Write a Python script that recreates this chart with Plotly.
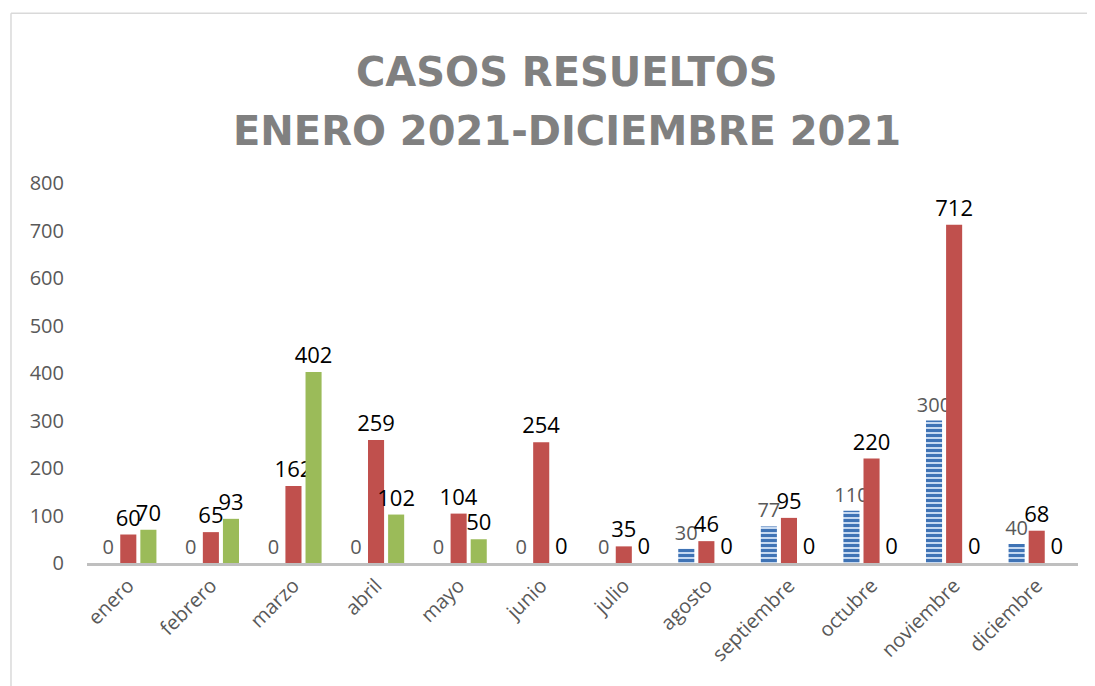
import plotly.graph_objects as go

months = ["enero", "febrero", "marzo", "abril", "mayo", "junio", "julio",
          "agosto", "septiembre", "octubre", "noviembre", "diciembre"]
serie_azul = [0, 0, 0, 0, 0, 0, 0, 30, 77, 110, 300, 40]
serie_roja = [60, 65, 162, 259, 104, 254, 35, 46, 95, 220, 712, 68]
serie_verde = [70, 93, 402, 102, 50, 0, 0, 0, 0, 0, 0, 0]
y_ticks = [0, 100, 200, 300, 400, 500, 600, 700, 800]

FONT = "Open Sans"

fig = go.Figure()
fig.add_trace(go.Bar(
    x=months, y=serie_azul, name="Serie 1",
    marker=dict(color="#c6d9f1", line=dict(width=0),
                pattern=dict(shape="-", fgcolor="#3f73b5", bgcolor="#c6d9f1",
                             size=5, solidity=0.6, fillmode="replace")),
    texttemplate="%{y}", textposition="outside", constraintext="none",
    cliponaxis=False, textfont=dict(family=FONT, size=20, color="#595959"),
))
fig.add_trace(go.Bar(
    x=months, y=serie_roja, name="Serie 2",
    marker=dict(color="#c0504d", line=dict(width=0)),
    texttemplate="%{y}", textposition="outside", constraintext="none",
    cliponaxis=False, textfont=dict(family=FONT, size=22, color="#000000"),
))
fig.add_trace(go.Bar(
    x=months, y=serie_verde, name="Serie 3",
    marker=dict(color="#9bbb59", line=dict(width=0)),
    texttemplate="%{y}", textposition="outside", constraintext="none",
    cliponaxis=False, textfont=dict(family=FONT, size=22, color="#000000"),
))

frame_line = dict(color="#d9d9d9", width=1.5)

fig.update_layout(
    width=1087, height=678,
    margin=dict(l=79, r=17, t=175, b=123),
    paper_bgcolor="white", plot_bgcolor="white",
    barmode="group", bargap=0.27, bargroupgap=0.2,
    showlegend=False,
    font=dict(family=FONT, color="#595959"),
    xaxis=dict(showline=True, linecolor="#bfbfbf", linewidth=3,
               showgrid=False, zeroline=False, tickangle=-45,
               tickfont=dict(size=20, color="#595959"), ticks=""),
    yaxis=dict(range=[0, 800], tickvals=y_ticks, showgrid=False,
               zeroline=False, showline=False, ticks="",
               ticklabelstandoff=22,
               tickfont=dict(size=20, color="#595959")),
    annotations=[
        dict(text="<b>CASOS RESUELTOS</b>", xref="paper", yref="paper",
             x=0.484, y=1.292, xanchor="center", yanchor="middle",
             showarrow=False,
             font=dict(family="DejaVu Sans", size=40, color="#808080")),
        dict(text="<b>ENERO 2021-DICIEMBRE 2021</b>", xref="paper", yref="paper",
             x=0.484, y=1.137, xanchor="center", yanchor="middle",
             showarrow=False,
             font=dict(family="DejaVu Sans", size=40, color="#808080")),
    ],
    shapes=[
        dict(type="line", xref="paper", yref="paper",
             x0=-0.0767, x1=1.03, y0=1.447, y1=1.447, line=frame_line,
             layer="below"),
        dict(type="line", xref="paper", yref="paper",
             x0=-0.0767, x1=-0.0767, y0=-0.36, y1=1.447, line=frame_line,
             layer="below"),
    ],
)

fig.write_html("out.html")
